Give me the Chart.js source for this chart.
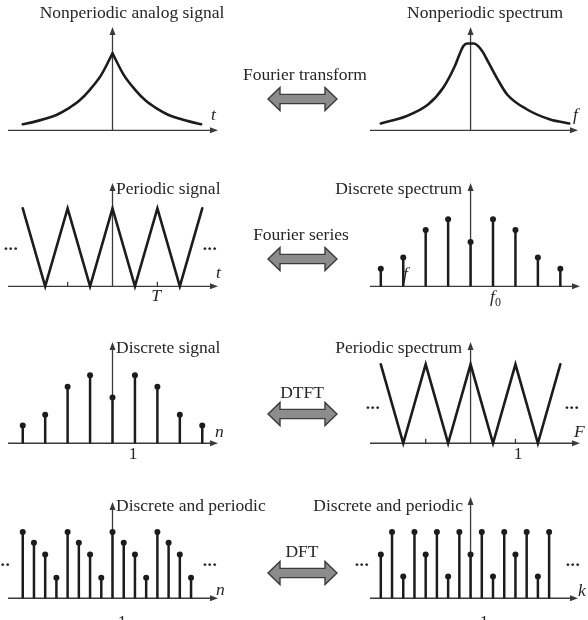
<!DOCTYPE html>
<html><head><meta charset="utf-8">
<script src="https://cdn.jsdelivr.net/npm/chart.js@4"></script>
<style>
html,body{margin:0;padding:0;background:#fff;}
#wrap{position:relative;width:588px;height:620px;overflow:hidden;}
canvas{position:absolute;left:0;top:0;}
.t{position:absolute;font-family:"Liberation Serif","Times New Roman",serif;font-size:17.5px;line-height:1;color:#262626;white-space:nowrap;}
.i{font-style:italic;}
.d{font-weight:bold;letter-spacing:0.5px;}
.sub{font-size:12px;position:relative;top:4px;font-style:normal;}
</style></head><body>
<div id="wrap"><canvas id="c" width="588" height="620"></canvas></div>
<script>
// ---------------- data ----------------
// Row 1 left: nonperiodic analog signal (two halves meeting at the cusp)
const analogLeftX  = [-4, -3.5, -3, -2.5, -2, -1.5, -1, -0.5, 0];
const analogLeftY  = [0.08, 0.11, 0.15, 0.20, 0.28, 0.38, 0.53, 0.72, 1.0];
const analogRightX = [0, 0.5, 1, 1.5, 2, 2.5, 3, 3.5, 3.95];
const analogRightY = [1.0, 0.72, 0.53, 0.38, 0.28, 0.20, 0.15, 0.11, 0.08];
// Row 1 right: nonperiodic spectrum
const spectrumX = [-4.0, -2.9, -1.88, -1.22, -0.70, -0.5, -0.32, -0.15, 0.15, 0.34, 0.55, 0.78, 1.2, 1.64, 2.52, 3.55, 4.4];
const spectrumY = [0.08, 0.16, 0.30, 0.49, 0.74, 0.87, 0.97, 1.0, 1.0, 0.97, 0.90, 0.79, 0.59, 0.41, 0.24, 0.125, 0.08];
// Row 2 left / row 3 right: periodic triangle
const triangleX = [-4, -3, -2, -1, 0, 1, 2, 3, 4];
const triangleY = [1, 0, 1, 0, 1, 0, 1, 0, 1];
// Row 2 right: discrete spectrum
const lineSpecX = [-4, -3, -2, -1, 0, 1, 2, 3, 4];
const lineSpecY = [0.26, 0.43, 0.84, 1.0, 0.66, 1.0, 0.84, 0.43, 0.26];
// Row 3 left: discrete signal
const discSigX = [-4, -3, -2, -1, 0, 1, 2, 3, 4];
const discSigY = [0.26, 0.42, 0.83, 1.0, 0.67, 1.0, 0.83, 0.42, 0.26];
// Row 4: discrete and periodic
const dpX = [-4, -3.5, -3, -2.5, -2, -1.5, -1, -0.5, 0, 0.5, 1, 1.5, 2, 2.5, 3, 3.5];
const dpSignalY = [1.0, 0.84, 0.66, 0.31, 1.0, 0.84, 0.66, 0.31, 1.0, 0.84, 0.66, 0.31, 1.0, 0.84, 0.66, 0.31];
const dpSpectrumY = [0.66, 1.0, 0.33, 1.0, 0.66, 1.0, 0.33, 1.0, 0.66, 1.0, 0.33, 1.0, 0.66, 1.0, 0.33, 1.0];
// ticks
const periodTicks = [-2, 2];
// text
const panelTitles = ["Nonperiodic analog signal","Nonperiodic spectrum","Periodic signal","Discrete spectrum",
  "Discrete signal","Periodic spectrum","Discrete and periodic","Discrete and periodic"];
const transformNames = ["Fourier transform","Fourier series","DTFT","DFT"];

// ---------------- geometry (pixels) ----------------
const W = 588, H = 620, SX = 22.75;
const panels = [
  {ox:110, oy:128, sy:78, axL:8,   axR:218, top:27},
  {ox:473, oy:128, sy:88, axL:370, axR:578, top:27},
  {ox:110, oy:286, sy:79, axL:8,   axR:218, top:183},
  {ox:473, oy:286, sy:68, axL:370, axR:580, top:183},
  {ox:110, oy:445, sy:69, axL:8,   axR:218, top:342},
  {ox:473, oy:445, sy:80, axL:370, axR:580, top:342},
  {ox:110, oy:602, sy:67, axL:8,   axR:218, top:502},
  {ox:473, oy:602, sy:67, axL:370, axR:578, top:497}
];
const bigArrows = [{x1:268,x2:337,cy:99},{x1:268,x2:337,cy:259},{x1:268,x2:337,cy:414},{x1:268,x2:337,cy:573}];

const INK = '#1c1c1c', AXIS = '#3a3a3a';
const scales = {};
panels.forEach((p,k)=>{
  scales['x'+k] = {type:'linear', axis:'x', display:false, min:-p.ox/SX, max:(W-p.ox)/SX};
  scales['y'+k] = {type:'linear', axis:'y', display:false, min:-(H-p.oy)/p.sy, max:p.oy/p.sy};
});
const pts = (xs, ys) => xs.map((x,i)=>({x, y:ys[i]}));
function curve(k, xs, ys, mono){
  return {type:'line', data:pts(xs,ys), xAxisID:'x'+k, yAxisID:'y'+k, borderColor:INK, borderWidth:2.6,
    pointRadius:0, fill:false, clip:false, tension:0, cubicInterpolationMode: mono ? 'monotone' : 'default',
    borderJoinStyle:'miter', borderCapStyle:'round'};
}
function stems(k, xs, ys){
  return {type:'scatter', data:pts(xs,ys), xAxisID:'x'+k, yAxisID:'y'+k, stem:true, borderColor:INK,
    backgroundColor:INK, pointRadius:3, pointBorderWidth:0, pointBackgroundColor:INK, showLine:false, clip:false};
}
const datasets = [
  curve(0, analogLeftX, analogLeftY, true),
  curve(0, analogRightX, analogRightY, true),
  curve(1, spectrumX, spectrumY, true),
  curve(2, triangleX, triangleY, false),
  stems(3, lineSpecX, lineSpecY),
  stems(4, discSigX, discSigY),
  curve(5, triangleX, triangleY, false),
  stems(6, dpX, dpSignalY),
  stems(7, dpX, dpSpectrumY)
];

const decor = {
  id:'decor',
  beforeDatasetsDraw(chart){
    const ctx = chart.ctx;
    ctx.save();
    ctx.strokeStyle = AXIS; ctx.fillStyle = AXIS; ctx.lineWidth = 1.3;
    panels.forEach((p,k)=>{
      const xs = chart.scales['x'+k], ys = chart.scales['y'+k];
      const y0 = ys.getPixelForValue(0), x0 = xs.getPixelForValue(0);
      ctx.beginPath(); ctx.moveTo(p.axL, y0); ctx.lineTo(p.axR-5, y0); ctx.stroke();
      ctx.beginPath(); ctx.moveTo(p.axR, y0); ctx.lineTo(p.axR-8, y0-3); ctx.lineTo(p.axR-8, y0+3); ctx.closePath(); ctx.fill();
      ctx.beginPath(); ctx.moveTo(x0, y0); ctx.lineTo(x0, p.top+5); ctx.stroke();
      ctx.beginPath(); ctx.moveTo(x0, p.top); ctx.lineTo(x0-3, p.top+8); ctx.lineTo(x0+3, p.top+8); ctx.closePath(); ctx.fill();
      if(k===2 || k===5){
        periodTicks.forEach(t=>{const tx = xs.getPixelForValue(t);
          ctx.beginPath(); ctx.moveTo(tx, y0); ctx.lineTo(tx, y0-4.5); ctx.stroke();});
      }
    });
    // fat double arrows
    bigArrows.forEach(a=>{
      const hh=11.5, sh=4.6, hl=12, c=a.cy;
      ctx.beginPath();
      ctx.moveTo(a.x1, c); ctx.lineTo(a.x1+hl, c-hh); ctx.lineTo(a.x1+hl, c-sh);
      ctx.lineTo(a.x2-hl, c-sh); ctx.lineTo(a.x2-hl, c-hh); ctx.lineTo(a.x2, c);
      ctx.lineTo(a.x2-hl, c+hh); ctx.lineTo(a.x2-hl, c+sh); ctx.lineTo(a.x1+hl, c+sh);
      ctx.lineTo(a.x1+hl, c+hh); ctx.closePath();
      ctx.fillStyle = '#8c8c8c'; ctx.fill();
      ctx.lineWidth = 1.4; ctx.strokeStyle = '#3c3c3c'; ctx.lineJoin='miter'; ctx.stroke();
    });
    ctx.restore();
  },
  beforeDatasetDraw(chart, args){
    const ds = chart.data.datasets[args.index];
    if(!ds.stem) return;
    const meta = args.meta, ctx = chart.ctx;
    const y0 = meta.yScale.getPixelForValue(0);
    ctx.save(); ctx.strokeStyle = INK; ctx.lineWidth = 2.5; ctx.lineCap='butt';
    meta.data.forEach(pt=>{ctx.beginPath(); ctx.moveTo(pt.x, y0); ctx.lineTo(pt.x, pt.y); ctx.stroke();});
    ctx.restore();
  }
};

new Chart(document.getElementById('c'), {
  type:'scatter',
  data:{datasets},
  options:{responsive:false, animation:false, layout:{padding:0},
    plugins:{legend:{display:false}, tooltip:{enabled:false}},
    scales},
  plugins:[decor]
});

// ---------------- text ----------------
const wrap = document.getElementById('wrap');
function label(html, x, baseline, align, cls){
  const d = document.createElement('div');
  d.className = 't ' + (cls||'');
  d.innerHTML = html;
  d.style.left = x + 'px';
  d.style.top = (baseline - 14.7) + 'px';
  d.style.transform = align==='c' ? 'translateX(-50%)' : align==='r' ? 'translateX(-100%)' : 'none';
  wrap.appendChild(d);
}
label(panelTitles[0], 132, 19, 'c');
label(panelTitles[1], 485, 19, 'c');
label(panelTitles[2], 116, 195, 'l');
label(panelTitles[3], 462, 195, 'r');
label(panelTitles[4], 116, 354, 'l');
label(panelTitles[5], 462, 354, 'r');
label(panelTitles[6], 116, 512, 'l');
label(panelTitles[7], 463, 512, 'r');
label(transformNames[0], 305, 81, 'c');
label(transformNames[1], 301, 241, 'c');
label(transformNames[2], 302, 399, 'c');
label(transformNames[3], 302, 558, 'c');
label('t', 211, 121, 'l', 'i');
label('f', 573, 121, 'l', 'i');
label('t', 216, 279, 'l', 'i');
label('T', 156, 302, 'c', 'i');
label('f', 403, 280, 'l', 'i');
label('f<span class="sub">0</span>', 490, 303, 'l', 'i');
label('n', 215, 438, 'l', 'i');
label('1', 133, 460, 'c');
label('F', 574, 438, 'l', 'i');
label('1', 518, 460, 'c');
label('n', 216, 596, 'l', 'i');
label('1', 122, 628, 'c');
label('k', 578, 597, 'l', 'i');
label('1', 484, 628, 'c');
label('...', 11, 251, 'c', 'd');
label('...', 210, 251, 'c', 'd');
label('...', 373, 410, 'c', 'd');
label('...', 572, 410, 'c', 'd');
label('...', 3, 567, 'c', 'd');
label('...', 210, 567, 'c', 'd');
label('...', 362, 567, 'c', 'd');
label('...', 573, 567, 'c', 'd');
</script>
</body></html>
